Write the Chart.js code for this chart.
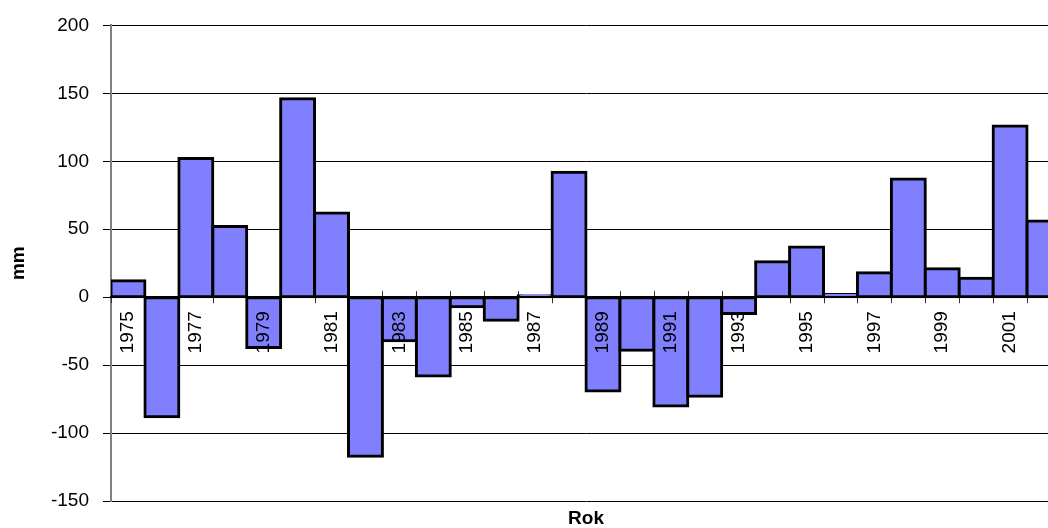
<!DOCTYPE html>
<html>
<head>
<meta charset="utf-8">
<script src="https://cdn.jsdelivr.net/npm/chart.js@4.4.1/dist/chart.umd.min.js"></script>
<style>
  html, body { margin: 0; padding: 0; background: #fff; overflow: hidden; }
  #wrap { position: relative; width: 1081px; height: 528px; }
</style>
</head>
<body>
<div id="wrap"><canvas id="chart"></canvas></div>
<script>
// Precipitation departure per year (mm)
const years = [
  '1975', '1976', '1977', '1978', '1979', '1980', '1981', '1982', '1983', '1984',
  '1985', '1986', '1987', '1988', '1989', '1990', '1991', '1992', '1993', '1994',
  '1995', '1996', '1997', '1998', '1999', '2000', '2001', '2002'
];
const departures = [
  12, -88, 102, 52, -37, 146, 62, -117, -32, -58,
  -7, -17, 1, 92, -69, -39, -80, -73, -12, 26,
  37, 2, 18, 87, 21, 14, 126, 56
];
const yTicks = [-150, -100, -50, 0, 50, 100, 150, 200];

const FONT = "'Liberation Sans', Arial, Helvetica, sans-serif";
Chart.defaults.font.family = FONT;
Chart.defaults.color = '#000';

// Short tick marks crossing the zero line at every category boundary
const crossTicks = {
  id: 'crossTicks',
  beforeDatasetsDraw(chart) {
    const xs = chart.scales.x;
    const ys = chart.scales.y;
    const y0 = ys.getPixelForValue(0);
    const n = xs.getLabels().length;
    const step = xs.width / n;
    const ctx = chart.ctx;
    ctx.save();
    ctx.strokeStyle = '#333';
    ctx.lineWidth = 1;
    ctx.beginPath();
    for (let i = 0; i <= n; i++) {
      const x = Math.round(xs.getPixelForValue(i) - step / 2) + 0.5;
      ctx.moveTo(x, y0 - 6);
      ctx.lineTo(x, y0 + 6);
    }
    ctx.stroke();
    ctx.restore();
  }
};

new Chart(document.getElementById('chart'), {
  type: 'bar',
  data: {
    labels: years,
    datasets: [{
      data: departures,
      backgroundColor: '#8080FF',
      borderColor: '#000',
      borderWidth: 3,
      borderSkipped: false,
      inflateAmount: 1.5,
      barPercentage: 1,
      categoryPercentage: 1
    }]
  },
  plugins: [crossTicks],
  options: {
    responsive: true,
    maintainAspectRatio: false,
    animation: false,
    layout: { padding: { top: 23, right: 20, bottom: 0, left: 0 } },
    plugins: {
      legend: { display: false },
      tooltip: { enabled: false }
    },
    scales: {
      x: {
        type: 'category',
        position: { y: 0 },
        offset: true,
        grid: { display: false, drawTicks: true, tickLength: 6 },
        border: { display: true, color: '#000', width: 2, z: 1 },
        ticks: {
          z: 2,
          autoSkip: false,
          minRotation: 90,
          maxRotation: 90,
          padding: 8,
          font: { size: 19 },
          callback: (value, index) => (index % 2 === 0 ? years[index] : '')
        }
      },
      x2: {
        type: 'category',
        position: 'bottom',
        grid: { display: false, drawTicks: false },
        border: { display: false },
        ticks: { display: false },
        title: {
          display: true,
          text: 'Rok',
          font: { size: 19, weight: 'bold', lineHeight: 1 },
          padding: { top: 8, bottom: 0 }
        }
      },
      y: {
        min: -150,
        max: 200,
        afterFit: (scale) => { scale.width = 111; },
        afterBuildTicks: (scale) => { scale.ticks = yTicks.map(v => ({ value: v })); },
        grid: { color: '#000', lineWidth: 1, tickLength: 8 },
        border: { display: true, color: '#808080', width: 2 },
        ticks: { padding: 14, font: { size: 19 } },
        title: {
          display: true,
          text: 'mm',
          font: { size: 19, weight: 'bold' },
          padding: { top: 7, bottom: 4 }
        }
      }
    }
  }
});
</script>
</body>
</html>
